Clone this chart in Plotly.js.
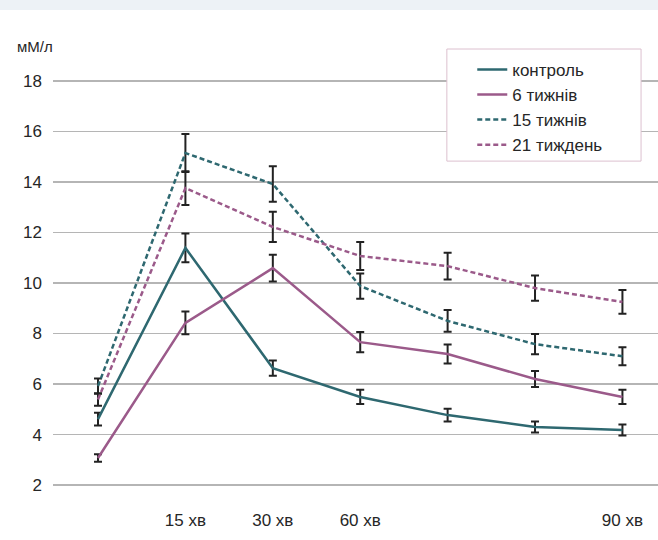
<!DOCTYPE html>
<html>
<head>
<meta charset="utf-8">
<script src="https://cdn.plot.ly/plotly-3.0.1.min.js"></script>
<style>html,body{margin:0;padding:0;background:#fff}#chart{width:658px;height:540px}</style>
</head>
<body>
<div id="chart"></div>
<script>
var categories = [0, 1, 2, 3, 4, 5, 6];
var tickLabels = ['', '15 хв', '30 хв', '60 хв', '', '', '90 хв'];
var seriesNames = ['контроль', '6 тижнів', '15 тижнів', '21 тиждень'];

var control = [4.61, 11.39, 6.63, 5.49, 4.77, 4.30, 4.18];
var controlErr = [0.25, 0.57, 0.3, 0.28, 0.25, 0.22, 0.22];

var week6 = [3.07, 8.42, 10.59, 7.66, 7.19, 6.20, 5.49];
var week6Err = [0.15, 0.45, 0.53, 0.4, 0.38, 0.32, 0.28];

var week15 = [5.92, 15.15, 13.92, 9.88, 8.50, 7.58, 7.10];
var week15Err = [0.3, 0.75, 0.7, 0.5, 0.43, 0.4, 0.36];

var week21 = [5.39, 13.76, 12.22, 11.07, 10.67, 9.80, 9.25];
var week21Err = [0.25, 0.67, 0.6, 0.55, 0.53, 0.5, 0.47];

var teal = '#2e6870';
var plum = '#9b5a8a';

function mk(name, y, err, color, dash) {
  return {
    type: 'scatter', mode: 'lines', name: name,
    x: categories, y: y,
    line: {color: color, width: 2.5, dash: dash},
    error_y: {type: 'data', array: err, visible: true, color: '#222222', thickness: 2, width: 4}
  };
}

var data = [
  mk(seriesNames[0], control, controlErr, teal, 'solid'),
  mk(seriesNames[1], week6, week6Err, plum, 'solid'),
  mk(seriesNames[2], week15, week15Err, teal, '5px,3px'),
  mk(seriesNames[3], week21, week21Err, plum, '5px,3px')
];

var layout = {
  width: 658, height: 540,
  margin: {l: 53, r: 0, t: 30, b: 35},
  paper_bgcolor: '#ffffff', plot_bgcolor: '#ffffff',
  font: {family: 'Liberation Sans, Arial, sans-serif', size: 17, color: '#262626'},
  showlegend: true,
  legend: {
    x: 0.693, y: 0.954, xanchor: 'left', yanchor: 'top',
    borderwidth: 0, bgcolor: 'rgba(0,0,0,0)',
    font: {size: 17, color: '#262626'},
    tracegroupgap: 0
  },
  xaxis: {
    range: [-0.515, 6.407], tickmode: 'array', tickvals: categories, ticktext: tickLabels,
    showgrid: false, zeroline: false, showline: false, ticks: '',
    tickfont: {size: 17}, ticklabelstandoff: 3
  },
  yaxis: {
    range: [1.21, 20.02], tickmode: 'array', tickvals: [2, 4, 6, 8, 10, 12, 14, 16, 18],
    showgrid: true, gridcolor: '#b5b5b5', gridwidth: 1.5, zeroline: false, showline: false,
    ticks: '', tickfont: {size: 17}, ticklabelstandoff: 10
  },
  shapes: [{
    type: 'rect', xref: 'paper', yref: 'paper', x0: -0.1, x1: 1.01, y0: 1.042, y1: 1.07,
    fillcolor: '#edf2f6', line: {width: 0}, layer: 'below'
  }, {
    type: 'rect', xref: 'paper', yref: 'paper', x0: 0.651, x1: 0.972, y0: 0.724, y1: 0.96,
    fillcolor: '#ffffff', line: {width: 1, color: '#dcc0cf'}, layer: 'above'
  }],
  annotations: [{
    text: 'мМ/л', xref: 'paper', yref: 'paper', x: -0.063, y: 0.965,
    xanchor: 'left', yanchor: 'middle', showarrow: false, font: {size: 15, color: '#262626'}
  }]
};

Plotly.newPlot('chart', data, layout, {displayModeBar: false, staticPlot: true});
</script>
</body>
</html>
